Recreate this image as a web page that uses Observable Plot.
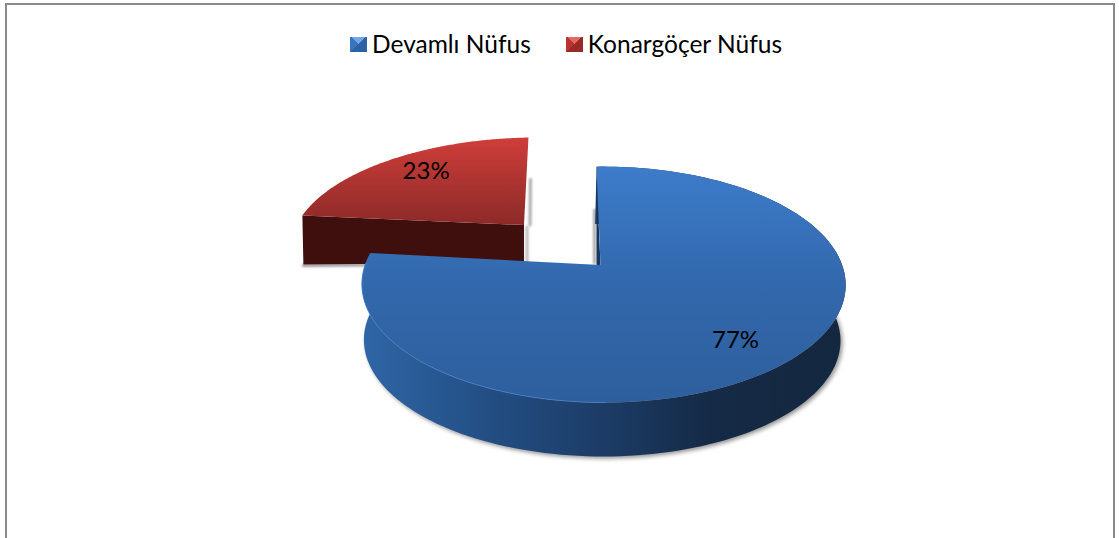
<!DOCTYPE html>
<html><head><meta charset="utf-8">
<script src="https://cdn.jsdelivr.net/npm/d3@7"></script>
<script src="https://cdn.jsdelivr.net/npm/@observablehq/plot@0.6"></script>
<style>
html,body{margin:0;padding:0;background:#fff;overflow:hidden}
#wrap{position:relative;width:1119px;height:538px;overflow:hidden}
#frame{position:absolute;left:5px;top:3px;width:1110px;height:560px;border:2px solid #8a8a8a;box-sizing:border-box}
#legend{position:absolute;top:29px;left:350px;display:flex;align-items:center;font:24.5px Lato,"Open Sans",sans-serif;color:#000;line-height:30px;white-space:nowrap;z-index:2}
.sw{display:inline-block;width:17px;height:15px;margin-right:5px;box-sizing:border-box}
.it{display:flex;align-items:center}
svg{position:absolute;left:0;top:0}
</style></head><body>
<div id="wrap"><div id="frame"></div><div id="legend"></div></div>
<script>
const categories = ["Devamlı Nüfus", "Konargöçer Nüfus"];
const shares = [77, 23];
const labels = ["77%", "23%"];

const W = 1119, H = 538;
const persp = {k: 0.166, m: -0.01};
const blue = {cx: 600, cy: 264.5, R: 238.5, H: 114.7, sx: -4.6, sy: 2, depth: 56, back: 0.985, lowDx: -1.5, lab: 0.78, labDx: -5, labDy: 2};
const red  = {cx: 523.5, cy: 224.5, R: 230.9, H: 102, sx: 5.2, sy: 3, depth: 37.5, back: 0.995, lowDx: 0, lab: 0.72, labDx: 0, labDy: -5};

const arcs = d3.pie().sort(null)(shares);

function pt(g, a, f = 1, low = false) {
  const u = Math.sin(a) * f, v = Math.cos(a) * f;
  const d = 1 + persp.k * v + persp.m * u;
  const s = low ? g.back : 1;
  return {
    x: g.cx + (low ? g.lowDx : 0) + s * (g.R * u + g.sx * v) / d,
    y: g.cy + (low ? g.depth : 0) - s * (g.H * v + g.sy * u) / d
  };
}
function arcPts(g, a0, a1, low = false) {
  const n = 160, out = [];
  for (let i = 0; i <= n; i++) out.push(pt(g, a0 + (a1 - a0) * i / n, 1, low));
  return out;
}
function face(g, a) {
  const c = pt(g, 0, 0);
  return [c, ...arcPts(g, a.startAngle, a.endAngle), c];
}
function band(g, a0, a1) {
  return [...arcPts(g, a0, a1), ...arcPts(g, a1, a0, true)];
}
function blur(px) {
  return (i, s, v, d, c, next) => { const e = next(i, s, v, d, c); e.style.filter = `blur(${px}px)`; return e; };
}
const polygon = (pts, o) => Plot.line(pts, {x: "x", y: "y", stroke: "none", ...o});
const shift = (p, dx, dy) => ({x: p.x + dx, y: p.y + dy});

const a0 = arcs[0], a1 = arcs[1];
const defs = () => {
  const svg = d3.create("svg:defs");
  const grad = (id, x2, y2, stops) => {
    const g = svg.append("linearGradient").attr("id", id).attr("x1", 0).attr("y1", 0).attr("x2", x2).attr("y2", y2);
    stops.forEach(([o, c]) => g.append("stop").attr("offset", o).attr("stop-color", c));
  };
  grad("blueTop", 0, 1, [[0, "#3d7ccb"], [0.5, "#3268ac"], [1, "#2e5f9d"]]);
  grad("blueSide", 1, 0, [[0, "#2f66a6"], [0.25, "#234f85"], [0.5, "#1c3c66"], [0.72, "#152a46"], [1, "#14273f"]]);
  grad("redTop", 0, 1, [[0, "#cf3e3a"], [1, "#8c2a28"]]);
  return svg.node();
};

const blueApex = pt(blue, 0, 0), blueTop = pt(blue, 0, 1);
const redApex = pt(red, 0, 0), redTop = pt(red, 0, 1), redLeft = pt(red, a1.startAngle);
const redLeftLow = shift(redLeft, 1, 49), redApexLow = shift(redApex, 0, red.depth);
const groups = [blue, red];
const labelAt = i => {
  const g = groups[i], p = pt(g, (arcs[i].startAngle + arcs[i].endAngle) / 2, g.lab);
  return shift(p, g.labDx, g.labDy);
};

const plot = Plot.plot({
  width: W, height: H, margin: 0,
  x: {domain: [0, W], range: [0, W], axis: null},
  y: {domain: [0, H], range: [0, H], axis: null},
  style: {background: "transparent"},
  marks: [
    defs,
    // soft shadows
    polygon([shift(redLeftLow, 0, 1), shift(redApexLow, 0, 1)], {stroke: "#999", strokeWidth: 3, render: blur(1)}),
    polygon([shift(redApexLow, 3, 0), shift(redApex, 3, 2)], {stroke: "#bbb", strokeWidth: 3, render: blur(1)}),
    polygon([shift(redApex, 6, 0), shift(redTop, 2, 42)], {stroke: "#aaa", strokeWidth: 3, render: blur(1)}),
    polygon([shift(blueApex, -6, -2), shift(blueApex, -6, -55)], {stroke: "#aaa", strokeWidth: 3, render: blur(1)}),
    polygon(arcPts({...blue, cx: blue.cx + 2, cy: blue.cy + 2}, Math.PI * 0.45, a0.endAngle, true),
      {fill: "#777", fillOpacity: 0.8, render: blur(2)}),
    // konargöçer slice
    polygon([redLeft, redApex, redApexLow, redLeftLow], {fill: "#3f0f0e"}),
    polygon(face(red, a1), {fill: "url(#redTop)"}),
    // devamlı slice
    polygon(band(blue, a0.startAngle, a0.endAngle), {fill: "url(#blueSide)"}),
    polygon([shift(blueTop, 0, 10), shift(blueApex, -4, 0), blueApex], {fill: "#16365e"}),
    polygon(face(blue, a0), {fill: "url(#blueTop)"}),
    polygon(arcPts(blue, Math.PI * 1.0, a0.endAngle - 0.1), {stroke: "#4f8ad6", strokeWidth: 1, strokeOpacity: 0.7, fill: "none"}),
    // percent labels
    Plot.text(labels, {
      x: (d, i) => labelAt(i).x,
      y: (d, i) => labelAt(i).y,
      text: d => d, fontSize: 24, fontFamily: "Lato, 'Open Sans', sans-serif", fill: "#000"
    })
  ]
});
document.getElementById("wrap").appendChild(plot);

const swatches = [
  "conic-gradient(from -45deg at 50% 45%, #6ea8ea 0 90deg, #2c62a3 90deg 270deg, #3a74ba 270deg)",
  "conic-gradient(from -45deg at 50% 45%, #e26a64 0 90deg, #9a2a28 90deg 270deg, #b8352f 270deg)"
];
const legend = document.getElementById("legend");
categories.forEach((c, i) => {
  const it = document.createElement("div");
  it.className = "it";
  if (i) it.style.marginLeft = "35px";
  it.innerHTML = `<span class="sw" style="background:${swatches[i]}"></span><span>${c}</span>`;
  legend.appendChild(it);
});
</script></body></html>
